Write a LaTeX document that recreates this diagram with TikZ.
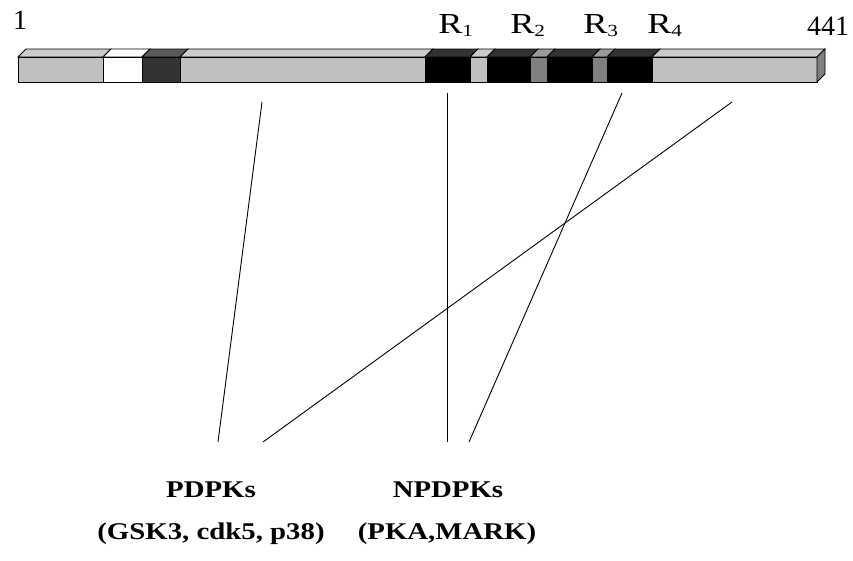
\documentclass[tikz,border=0pt]{standalone}
\usepackage{fontspec}
\setmainfont{Liberation Serif}
\begin{document}
\begin{tikzpicture}[x=1pt,y=-1pt,
  outline/.style={draw=black,line width=0.9pt,line join=miter},
  link/.style={draw=black,line width=0.9pt},
  num/.style={inner sep=0pt,anchor=base west,font=\fontsize{28}{30}\selectfont},
  rep/.style={inner sep=0pt,anchor=base west,xscale=1.25,font=\fontsize{29}{30}\selectfont},
  kin/.style={inner sep=0pt,anchor=base,xscale=1.2,font=\fontsize{24}{26}\selectfont\bfseries}]
\useasboundingbox (0,0) rectangle (853,560);
\definecolor{barlight}{HTML}{C0C0C0}
\definecolor{barlighttop}{HTML}{CCCCCC}
\definecolor{bardark}{HTML}{333333}
\definecolor{bardarktop}{HTML}{5A5A5A}
\definecolor{barmid}{HTML}{808080}
\definecolor{barmidtop}{HTML}{9A9A9A}
\definecolor{barblacktop}{HTML}{333333}
\definecolor{barside}{HTML}{808080}
% protein bar: top faces, front faces, right end
\foreach \xa/\xb/\fc/\tc in {18/103/barlight/barlighttop,103/142/white/white,
    142/180/bardark/bardarktop,180/425/barlight/barlighttop,
    425/470/black/barblacktop,470/487/barlight/barlighttop,
    487/530/black/barblacktop,530/547/barmid/barmidtop,
    547/592/black/barblacktop,592/607/barmid/barmidtop,
    607/652/black/barblacktop,652/817/barlight/barlighttop}{
  \filldraw[outline,fill=\tc] (\xa,57) -- (\xb,57) -- (\xb+8,49) -- (\xa+8,49) -- cycle;
  \filldraw[outline,fill=\fc] (\xa,57) rectangle (\xb,82);
}
\filldraw[outline,fill=barside] (817,57) -- (825,49) -- (825,74) -- (817,82) -- cycle;
% end numbers and repeat labels
\node[num] (n1) at (13,29) {1};
\node[num] (n441) at (807,35) {441};
\node[rep] (r1) at (438,33) {R\raisebox{-0.25ex}{\fontsize{17}{17}\selectfont 1}};
\node[rep] (r2) at (510,33) {R\raisebox{-0.25ex}{\fontsize{17}{17}\selectfont 2}};
\node[rep] (r3) at (583,33) {R\raisebox{-0.25ex}{\fontsize{17}{17}\selectfont 3}};
\node[rep] (r4) at (647,33) {R\raisebox{-0.25ex}{\fontsize{17}{17}\selectfont 4}};
% kinase group labels
\node[kin] (pd) at (211,497) {PDPKs};
\node[kin] (pdx) at (211,539) {(GSK3, cdk5, p38)};
\node[kin] (np) at (448,497) {NPDPKs};
\node[kin] (npx) at (447,539) {(PKA,MARK)};
% sites on the bar and line ends above the labels
\coordinate (s1) at (262,102);
\coordinate (s2) at (447,93);
\coordinate (s3) at (622,93);
\coordinate (s4) at (732,102);
\coordinate (p1) at (218,442);
\coordinate (p2) at (263,442);
\coordinate (q1) at (447,442);
\coordinate (q2) at (469,442);
\draw[link] (s1) -- (p1);
\draw[link] (s4) -- (p2);
\draw[link] (s2) -- (q1);
\draw[link] (s3) -- (q2);
\end{tikzpicture}
\end{document}
